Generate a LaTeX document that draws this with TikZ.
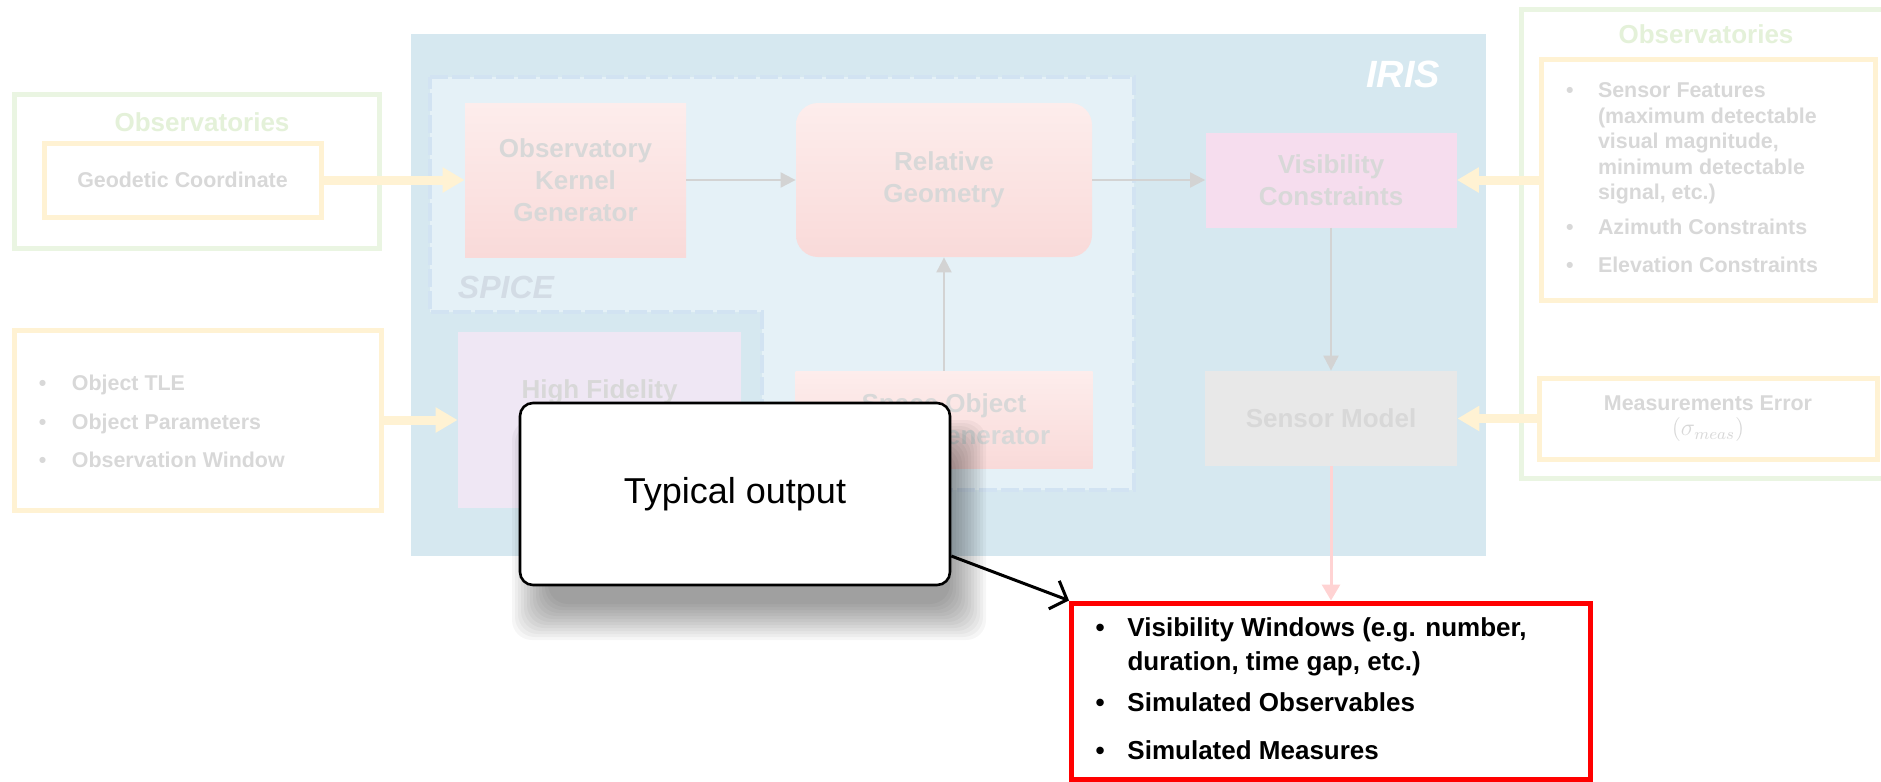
\documentclass[tikz,border=0pt]{standalone}
\usepackage{fontspec}
\setmainfont{Liberation Sans}
\usetikzlibrary{arrows.meta}
\definecolor{irisblue}{HTML}{D6E8F0}
\definecolor{spiceblue}{HTML}{E5F1F7}
\definecolor{spiceline}{HTML}{D2E3F2}
\definecolor{spicetext}{HTML}{D3DCE5}
\definecolor{fadetext}{HTML}{D8D8D8}
\definecolor{obsgreen}{HTML}{EAF5E2}
\definecolor{obstitle}{HTML}{E4F1D9}
\definecolor{inyellow}{HTML}{FFF2D3}
\definecolor{pinktop}{HTML}{FDEDEC}
\definecolor{pinkbot}{HTML}{F9DAD9}
\definecolor{vispink}{HTML}{F6DDEE}
\definecolor{hifililac}{HTML}{EFE7F4}
\definecolor{sensorgray}{HTML}{E8E8E8}
\definecolor{linkgray}{HTML}{D3D3D3}
\definecolor{outpink}{HTML}{FFD3D3}

\begin{document}
\begin{tikzpicture}[x=0.5pt,y=-0.5pt,
    txt/.style={font=\bfseries\fontsize{13}{16}\selectfont,text=fadetext,align=center,inner sep=0pt},
    small/.style={font=\bfseries\fontsize{10.7}{12.7}\selectfont,text=fadetext,inner sep=0pt},
    title/.style={font=\bfseries\fontsize{13}{16}\selectfont,text=obstitle,inner sep=0pt},
    obsbox/.style={draw=obsgreen,line width=2.5pt,fill=white,inner sep=0pt},
    inbox/.style={draw=inyellow,line width=2.5pt,fill=white,inner sep=0pt},
    pinkbox/.style={txt,top color=pinktop,bottom color=pinkbot},
    link/.style={draw=linkgray,line width=1pt,-{Triangle[length=7.5pt,width=7.5pt]}},
    feed/.style={draw=inyellow,line width=4.5pt,-{Triangle[length=11pt,width=12pt]}},
    outlink/.style={draw=outpink,line width=1.5pt,-{Triangle[length=8pt,width=9pt]}},
    callarrow/.style={draw=black,line width=1.5pt,-{Straight Barb[length=7pt,width=15pt]}},
  ]
  \useasboundingbox (0,0) rectangle (1881,782);

  \node[obsbox,minimum width=182.5pt,minimum height=77pt] (obsleft) at (196.5,171) {};
  \node[title] (obslefttitle) at (202,122) {Observatories};
  \node[inbox,small,minimum width=138.5pt,minimum height=37pt] (geo) at (182.5,180) {Geodetic Coordinate};

  \node[inbox,small,minimum width=183.5pt,minimum height=90pt] (objlist) at (197.5,420) {%
    \begin{tabular}{@{}p{16.5pt}@{}p{142pt}@{}}
      \\[-9pt]
      \textbullet & Object TLE\\[7pt]
      \textbullet & Object Parameters\\[6pt]
      \textbullet & Observation Window
    \end{tabular}};

  \node[fill=irisblue,inner sep=0pt,minimum width=537.5pt,minimum height=261pt] (iris) at (948.5,295) {};
  \draw[spiceline,fill=spiceblue,line width=2pt,dash pattern=on 9pt off 2pt]
    (430,77) -- (1134,77) -- (1134,490) -- (762,490) -- (762,312) -- (430,312) -- cycle;
  \node[font=\bfseries\itshape\fontsize{19}{22}\selectfont,text=white] (irislabel) at (1403,74) {IRIS};
  \node[font=\bfseries\itshape\fontsize{16}{19}\selectfont,text=spicetext] (spicelabel) at (506,287) {SPICE};

  \node[pinkbox,minimum width=110.5pt,minimum height=77pt] (okg) at (575.5,180) {Observatory\\Kernel\\Generator};
  \node[pinkbox,rounded corners=11pt,minimum width=148pt,minimum height=77pt] (relgeo) at (944,180) {Relative\\Geometry};
  \node[txt,fill=vispink,minimum width=125.5pt,minimum height=47.5pt] (viscon) at (1331,180) {Visibility\\Constraints};
  \node[txt,fill=hifililac,minimum width=141.5pt,minimum height=88pt] (hifi) at (599.5,420) {High Fidelity\\[15pt]\mbox{}};
  \node[pinkbox,minimum width=148.5pt,minimum height=48.5pt] (sog) at (944,419.5) {Space Object\\Kernel Generator};
  \node[txt,fill=sensorgray,minimum width=126pt,minimum height=47.5pt] (sensmod) at (1331,418.5) {Sensor Model};

  \node[obsbox,minimum width=189.5pt,minimum height=234.5pt] (obsright) at (1710.5,243.5) {};
  \node[title] (obsrighttitle) at (1706,34) {Observatories};
  \node[inbox,small,minimum width=167pt,minimum height=120.5pt] (sensfeat) at (1708,180) {%
    \begin{tabular}{@{}p{16pt}@{}p{126pt}@{}}
      \textbullet & Sensor Features\\
                  & (maximum detectable\\
                  & visual magnitude,\\
                  & minimum detectable\\
                  & signal, etc.)\\[5pt]
      \textbullet & Azimuth Constraints\\[6pt]
      \textbullet & Elevation Constraints
    \end{tabular}};
  \node[inbox,small,align=center,minimum width=169pt,minimum height=40.5pt] (measerr) at (1708,418.5) {Measurements Error\\{\fontsize{12}{13}\selectfont$(\sigma_{meas})$}};

  \draw[feed] (geo) -- (okg);
  \draw[feed] (objlist) -- (hifi);
  \draw[feed] (sensfeat) -- (viscon);
  \draw[feed] (measerr) -- (sensmod);
  \draw[link] (okg) -- (relgeo);
  \draw[link] (relgeo) -- (viscon);
  \draw[link] (sog) -- (relgeo);
  \draw[link] (viscon) -- (sensmod);

  \node[draw=red,line width=2.5pt,fill=white,inner sep=0pt,minimum width=259.5pt,minimum height=88pt,
    font=\bfseries\fontsize{13}{17}\selectfont] (output) at (1331,691) {%
    \begin{tabular}{@{}p{16pt}@{}p{219.5pt}@{}}
      \textbullet & Visibility Windows (e.g. number,\\
                  & duration, time gap, etc.)\\[3.5pt]
      \textbullet & Simulated Observables\\[7pt]
      \textbullet & Simulated Measures
    \end{tabular}};
  \draw[outlink] (sensmod) -- (output);

  \foreach \k in {0,...,12}
    \fill[black,opacity=0.035,rounded corners=10pt]
      ({512+3*\k},{420+3*\k}) rectangle ({986-3*\k},{640-3*\k});
  \node[draw=black,line width=1.3pt,fill=white,rounded corners=6.5pt,minimum width=215pt,minimum height=91pt,
    font=\fontsize{18}{22}\selectfont] (callout) at (735,494) {Typical output};
  \draw[callarrow] (callout.-16) -- (output.north west);
\end{tikzpicture}
\end{document}
